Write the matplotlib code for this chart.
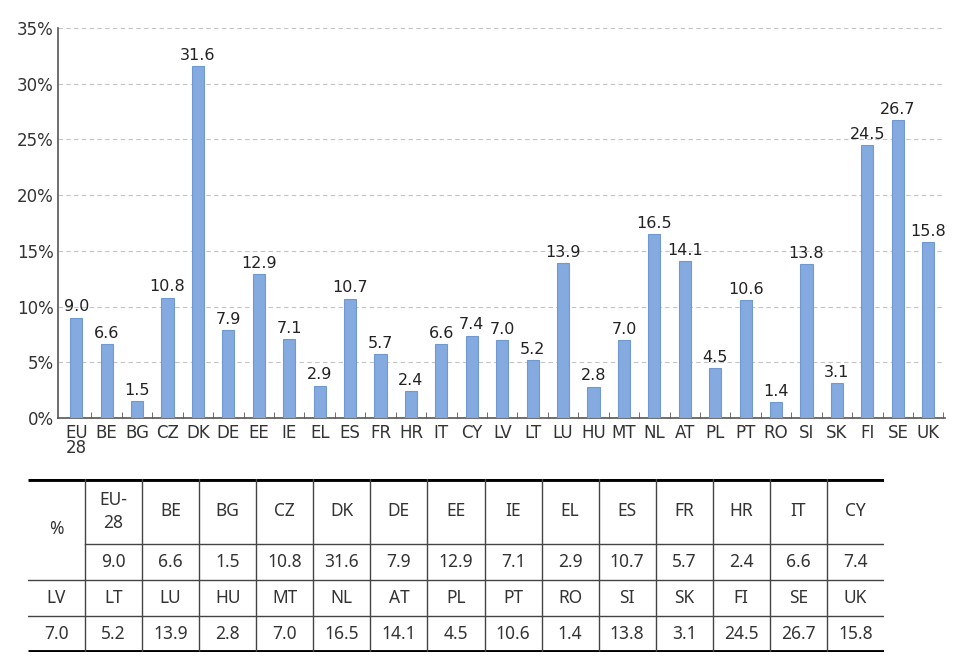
import matplotlib.pyplot as plt
import numpy as np

# data
countries = ["EU\n28", "BE", "BG", "CZ", "DK", "DE", "EE", "IE", "EL", "ES", "FR", "HR", "IT", "CY",
             "LV", "LT", "LU", "HU", "MT", "NL", "AT", "PL", "PT", "RO", "SI", "SK", "FI", "SE", "UK"]
values = [9.0, 6.6, 1.5, 10.8, 31.6, 7.9, 12.9, 7.1, 2.9, 10.7, 5.7, 2.4, 6.6, 7.4,
          7.0, 5.2, 13.9, 2.8, 7.0, 16.5, 14.1, 4.5, 10.6, 1.4, 13.8, 3.1, 24.5, 26.7, 15.8]
yticks = [0, 5, 10, 15, 20, 25, 30, 35]

# table rows
table_head1 = ["EU-\n28", "BE", "BG", "CZ", "DK", "DE", "EE", "IE", "EL", "ES", "FR", "HR", "IT", "CY"]
table_vals1 = ["9.0", "6.6", "1.5", "10.8", "31.6", "7.9", "12.9", "7.1", "2.9", "10.7", "5.7", "2.4", "6.6", "7.4"]
table_head2 = ["LV", "LT", "LU", "HU", "MT", "NL", "AT", "PL", "PT", "RO", "SI", "SK", "FI", "SE", "UK"]
table_vals2 = ["7.0", "5.2", "13.9", "2.8", "7.0", "16.5", "14.1", "4.5", "10.6", "1.4", "13.8", "3.1", "24.5", "26.7", "15.8"]

fig = plt.figure(figsize=(9.69, 6.66), dpi=100)

# ---------------- bar chart ----------------
ax = fig.add_axes([58 / 969, 1 - 418 / 666, (945 - 58) / 969, (418 - 28) / 666])
x = np.arange(len(values))
ax.bar(x, values, width=0.4, color='#84AADF', edgecolor='#7099D2', linewidth=0.8, zorder=3)
for xi, v in zip(x, values):
    ax.text(xi, v + 0.3, f"{v:.1f}", ha='center', va='bottom', fontsize=11.5, color='#222222', zorder=4)

ax.set_xlim(-0.6, len(values) - 0.45)
ax.set_ylim(0, 35)
ax.set_yticks(yticks)
ax.set_yticklabels([f"{t}%" for t in yticks], fontsize=12, color='#333333')
ax.set_xticks(x)
ax.set_xticklabels(countries, fontsize=12, color='#333333', linespacing=0.85)
ax.set_xticks(np.arange(len(values)) + 0.5, minor=True)
ax.tick_params(axis='x', which='major', length=0, pad=4)
ax.tick_params(axis='x', which='minor', direction='in', length=4, color='#555555')
ax.tick_params(axis='y', length=0, pad=3)
ax.grid(axis='y', linestyle=(0, (4, 3)), color='#C4C4C4', linewidth=0.8, zorder=0)
for s in ['top', 'right']:
    ax.spines[s].set_visible(False)
ax.spines['left'].set_color('#555555')
ax.spines['bottom'].set_color('#555555')
ax.spines['left'].set_linewidth(1.2)
ax.spines['bottom'].set_linewidth(1.2)

# ---------------- table ----------------
tx = fig.add_axes([28 / 969, 1 - 652 / 666, (884 - 28) / 969, (652 - 479) / 666])
tx.set_xlim(0, 15)
tx.set_ylim(173, 0)
tx.axis('off')

lc = '#444444'
tfont = dict(fontsize=12.5, color='#333333', family='Noto Sans', ha='center', va='center')

# thick top and bottom rules
tx.plot([0, 15], [0, 0], color='black', lw=3.5, solid_capstyle='butt')
tx.plot([0, 15], [173, 173], color='black', lw=3.5, solid_capstyle='butt')
# horizontal inner lines
tx.plot([1, 15], [65, 65], color=lc, lw=1)
tx.plot([0, 15], [101, 101], color=lc, lw=1)
tx.plot([0, 15], [137, 137], color=lc, lw=1)
# vertical lines
for c in range(1, 15):
    tx.plot([c, c], [0, 173], color=lc, lw=1)

tx.text(0.5, 50, "%", **tfont)
for i, (h, v) in enumerate(zip(table_head1, table_vals1)):
    tx.text(i + 1.5, 32.5, h, linespacing=1.4, **tfont)
    tx.text(i + 1.5, 83, v, **tfont)
for i, (h, v) in enumerate(zip(table_head2, table_vals2)):
    tx.text(i + 0.5, 119, h, **tfont)
    tx.text(i + 0.5, 155, v, **tfont)

fig.savefig("out.png", dpi=100)
